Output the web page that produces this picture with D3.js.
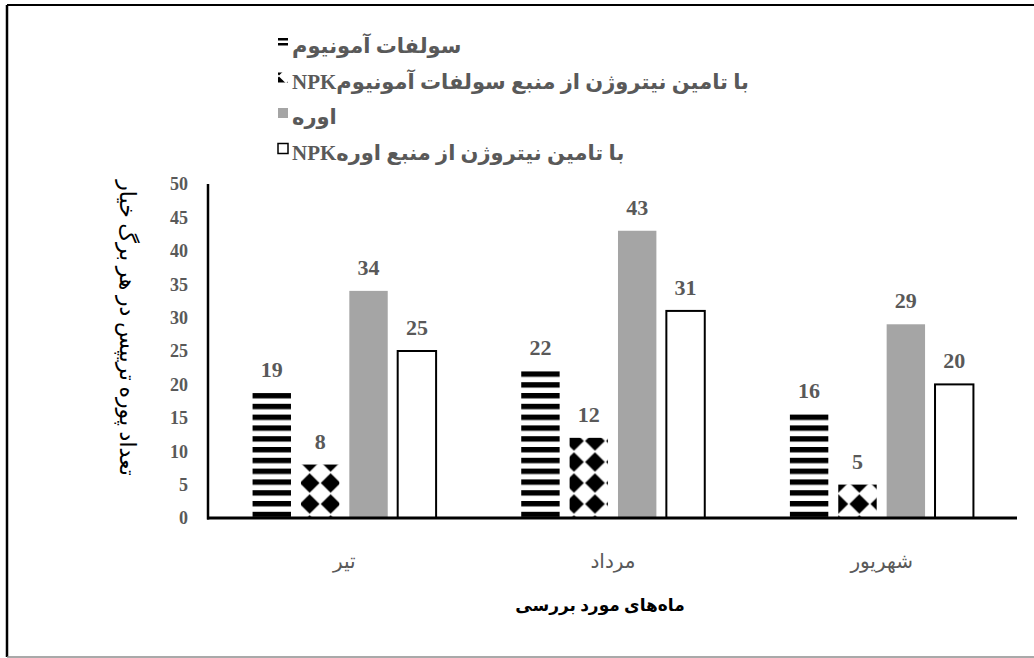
<!DOCTYPE html>
<html>
<head>
<meta charset="utf-8">
<script src="https://cdn.jsdelivr.net/npm/d3@7"></script>
<style>
body { margin: 0; background: #fff; }
svg { display: block; }
</style>
</head>
<body>
<div id="chart"></div>
<script>
// months on the x axis
var months = ["تیر", "مرداد", "شهریور"];

// series names, as the legend shows them (latin part first so it lands on the left)
var series_names = [
    "سولفات آمونیوم",
    "NPKبا تامین نیتروژن از منبع سولفات آمونیوم",
    "اوره",
    "NPKبا تامین نیتروژن از منبع اوره"
];

// bar values per month
var ammonium_sulfate = [18.7, 22, 15.6];
var npk_ammonium = [8, 12, 5];
var urea = [34, 43, 29];
var npk_urea = [25, 31, 20];

var y_ticks = [0, 5, 10, 15, 20, 25, 30, 35, 40, 45, 50];
var x_title = "ماه‌های مورد بررسی";
var y_title = "تعداد پوره تریپس در هر برگ خیار";

var W = 1034, H = 658;
var serif = "'Liberation Serif', 'Times New Roman', 'DejaVu Sans', serif";
var label_grey = "#595959";
var bar_grey = "#a5a5a5";

var all_series = [ammonium_sulfate, npk_ammonium, urea, npk_urea];

var svg = d3.select('#chart')
    .append('svg')
    .attr('width', W)
    .attr('height', H);

// outer frame
svg.append('line').attr('x1', 7).attr('y1', 5).attr('x2', 7).attr('y2', 657)
    .attr('stroke', '#000').attr('stroke-width', 2.5);
svg.append('line').attr('x1', 7).attr('y1', 5).attr('x2', W).attr('y2', 5)
    .attr('stroke', '#000').attr('stroke-width', 2);
svg.append('line').attr('x1', 7).attr('y1', 657).attr('x2', W).attr('y2', 657)
    .attr('stroke', '#8c8c8c').attr('stroke-width', 1.5);

var x0 = d3.scaleBand().domain(months).range([210, 1016]);
var x1 = d3.scaleBand().domain(d3.range(4)).range([0, x0.bandwidth()])
    .paddingInner(0.206).paddingOuter(0.88);
var y = d3.scaleLinear().domain([0, 50]).range([518, 184]);
var bw = x1.bandwidth();

var defs = svg.append('defs');

// horizontal stripes
function stripePattern(id, py, h){
    var p = defs.append('pattern')
        .attr('id', id)
        .attr('patternUnits', 'userSpaceOnUse')
        .attr('x', 0)
        .attr('y', py)
        .attr('width', 10)
        .attr('height', h);
    p.append('rect').attr('width', 10).attr('height', h).attr('fill', '#fff');
    p.append('rect').attr('width', 10).attr('height', h / 2).attr('fill', '#000');
}
stripePattern('stripes', y(0) - 3.5 - 2.7, 10.8);

// solid diamonds, one pattern per month so they sit centred in the bar
var P = 21;
function diamondPattern(id, px, py, size){
    var p = defs.append('pattern')
        .attr('id', id)
        .attr('patternUnits', 'userSpaceOnUse')
        .attr('x', px)
        .attr('y', py)
        .attr('width', size)
        .attr('height', size);
    p.append('rect').attr('width', size).attr('height', size).attr('fill', '#fff');
    var r = size * 0.47, c = size / 2;
    p.append('path')
        .attr('d', 'M' + c + ',' + (c - r) + 'L' + (c + r) + ',' + c + 'L' + c + ',' + (c + r) + 'L' + (c - r) + ',' + c + 'Z')
        .attr('fill', '#000');
}
months.forEach(function(m, i){
    diamondPattern('diamond-' + i, x0(m) + x1(1) + bw / 2, y(0) - 14 - P / 2, P);
});

function barFill(s, i){
    if(s == 0) return 'url(#stripes)';
    if(s == 1) return 'url(#diamond-' + i + ')';
    if(s == 2) return bar_grey;
    return '#fff';
}

// bars
var groups = svg.selectAll('g.month')
    .data(months)
    .enter()
    .append('g')
    .attr('class', 'month')
    .attr('transform', function(d){ return 'translate(' + x0(d) + ',0)'; });

groups.each(function(m, i){
    var g = d3.select(this);
    all_series.forEach(function(vals, s){
        g.append('rect')
            .attr('x', x1(s))
            .attr('y', y(vals[i]))
            .attr('width', bw)
            .attr('height', y(0) - y(vals[i]))
            .attr('fill', barFill(s, i))
            .attr('stroke', s == 3 ? '#000' : 'none')
            .attr('stroke-width', 2);

        g.append('text')
            .attr('x', x1(s) + bw / 2)
            .attr('y', y(vals[i]) - 16)
            .attr('text-anchor', 'middle')
            .attr('font-family', serif)
            .attr('font-weight', 'bold')
            .attr('font-size', '22px')
            .attr('fill', label_grey)
            .text(d3.format('.0f')(vals[i]));
    });
});

// axes lines
svg.append('line')
    .attr('x1', 208).attr('y1', y(50)).attr('x2', 208).attr('y2', y(0) + 1.5)
    .attr('stroke', '#000').attr('stroke-width', 2.5);
svg.append('line')
    .attr('x1', 207).attr('y1', y(0)).attr('x2', 1017).attr('y2', y(0))
    .attr('stroke', '#000').attr('stroke-width', 3);

// y tick labels
svg.selectAll('text.ytick')
    .data(y_ticks)
    .enter()
    .append('text')
    .attr('class', 'ytick')
    .attr('x', 188)
    .attr('y', function(d){ return y(d); })
    .attr('dy', '0.35em')
    .attr('text-anchor', 'end')
    .attr('font-family', serif)
    .attr('font-weight', 'bold')
    .attr('font-size', '18px')
    .attr('fill', label_grey)
    .text(function(d){ return d; });

// x tick labels
svg.selectAll('text.xtick')
    .data(months)
    .enter()
    .append('text')
    .attr('class', 'xtick')
    .attr('x', function(d){ return x0(d) + x0.bandwidth() / 2; })
    .attr('y', 568)
    .attr('text-anchor', 'middle')
    .attr('font-family', serif)
    .attr('font-size', '20px')
    .attr('fill', label_grey)
    .text(function(d){ return d; });

// axis titles
svg.append('text')
    .attr('x', 600)
    .attr('y', 611)
    .attr('text-anchor', 'middle')
    .attr('font-family', serif)
    .attr('font-weight', 'bold')
    .attr('font-size', '17px')
    .attr('fill', '#000')
    .text(x_title);

svg.append('text')
    .attr('transform', 'translate(128,328) rotate(90)')
    .attr('text-anchor', 'middle')
    .attr('dy', '0.35em')
    .attr('font-family', serif)
    .attr('font-size', '22px')
    .attr('fill', '#000')
    .text(y_title);

// legend
stripePattern('stripes-legend', 38, 5);
diamondPattern('diamond-legend', 272, 76, 14);
var legend_fill = ['url(#stripes-legend)', 'url(#diamond-legend)', bar_grey, '#fff'];
series_names.forEach(function(name, i){
    var cy = 46 + i * 35.5;
    var row = svg.append('g');
    row.append('rect')
        .attr('x', 278)
        .attr('y', cy - 9)
        .attr('width', 10)
        .attr('height', 10)
        .attr('fill', legend_fill[i])
        .attr('stroke', i == 3 ? '#000' : 'none')
        .attr('stroke-width', 1.5);
    row.append('text')
        .attr('x', 292)
        .attr('y', cy)
        .attr('dy', '0.35em')
        .attr('font-family', serif)
        .attr('font-weight', 'bold')
        .attr('font-size', '21px')
        .attr('fill', label_grey)
        .text(name);
});
</script>
</body>
</html>
